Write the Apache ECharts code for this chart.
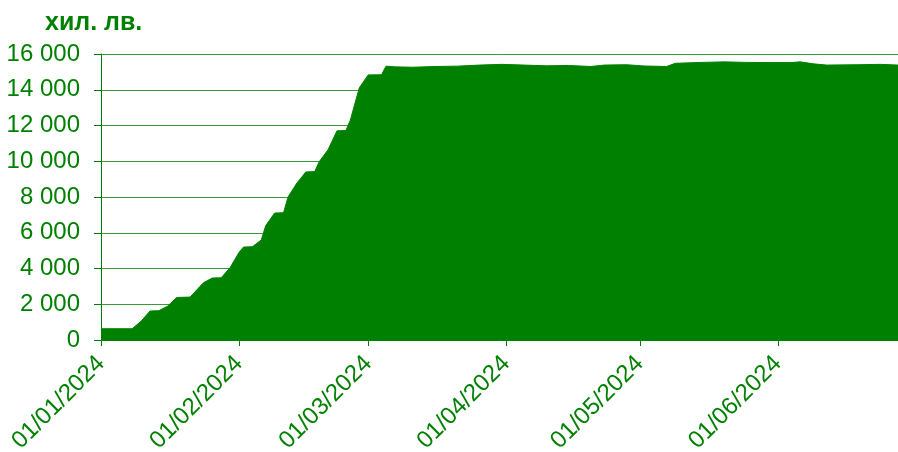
<!DOCTYPE html>
<html>
<head>
<meta charset="utf-8">
<script src="https://cdn.jsdelivr.net/npm/echarts@6/dist/echarts.min.js"></script>
<style>
  html, body { margin: 0; padding: 0; background: #fff; }
  #chart-container { width: 898px; height: 452px; }
</style>
</head>
<body>
<div id="chart-container"></div>
<script>
// values (thousand leva), breakpoints of the filled curve
var dates = [
  '2024-01-01', '2024-01-08', '2024-01-10', '2024-01-12', '2024-01-14', '2024-01-16',
  '2024-01-18', '2024-01-21', '2024-01-24', '2024-01-26', '2024-01-28', '2024-01-30',
  '2024-02-01', '2024-02-02', '2024-02-04', '2024-02-06', '2024-02-07', '2024-02-09',
  '2024-02-11', '2024-02-12', '2024-02-14', '2024-02-16', '2024-02-18', '2024-02-19',
  '2024-02-21', '2024-02-23', '2024-02-25', '2024-02-26', '2024-02-28', '2024-03-01',
  '2024-03-04', '2024-03-05', '2024-03-07', '2024-03-11', '2024-03-16', '2024-03-21',
  '2024-03-26', '2024-03-31', '2024-04-05', '2024-04-10', '2024-04-15', '2024-04-20',
  '2024-04-23', '2024-04-28', '2024-05-02', '2024-05-07', '2024-05-09', '2024-05-15',
  '2024-05-20', '2024-05-25', '2024-05-30', '2024-06-04', '2024-06-06', '2024-06-09',
  '2024-06-12', '2024-06-19', '2024-06-24', '2024-06-28'
];
var values = [
  630, 630, 1050, 1620, 1640, 1900,
  2380, 2400, 3200, 3470, 3480, 4050,
  4900, 5200, 5220, 5600, 6400, 7100,
  7120, 8000, 8780, 9400, 9420, 9970,
  10650, 11700, 11720, 12300, 14100, 14830,
  14840, 15320, 15280, 15260, 15300, 15320,
  15380, 15420, 15380, 15340, 15360, 15300,
  15380, 15400, 15330, 15300, 15480, 15530,
  15560, 15530, 15520, 15520, 15560, 15450,
  15380, 15400, 15420, 15380
];
var yTicks = [0, 2000, 4000, 6000, 8000, 10000, 12000, 14000, 16000];

var green = '#008000';
var font = 'Liberation Sans';

function pad(n) { return n < 10 ? '0' + n : '' + n; }

var dom = document.getElementById('chart-container');
var myChart = echarts.init(dom, null, { renderer: 'canvas' });

var seriesData = dates.map(function (d, i) { return [d, values[i]]; });

var option = {
  animation: false,
  backgroundColor: '#fff',
  title: {
    text: 'хил. лв.',
    left: 40,
    top: 6,
    textStyle: { color: green, fontFamily: font, fontWeight: 'bold', fontSize: 25 }
  },
  grid: { left: 101, right: 0, top: 54, bottom: 112, containLabel: false, outerBoundsMode: 'none' },
  xAxis: {
    type: 'time',
    min: dates[0],
    max: dates[dates.length - 1],
    minInterval: 28 * 24 * 3600 * 1000,
    maxInterval: 31 * 24 * 3600 * 1000,
    axisLine: { show: true, lineStyle: { color: green, width: 1 } },
    axisTick: { show: true, length: 6, lineStyle: { color: green } },
    splitLine: { show: false },
    axisLabel: {
      rotate: 45,
      margin: 20,
      color: green,
      fontFamily: font,
      fontSize: 24,
      showMaxLabel: false,
      formatter: function (v) {
        var d = new Date(v);
        return pad(d.getDate()) + '/' + pad(d.getMonth() + 1) + '/' + d.getFullYear();
      }
    }
  },
  yAxis: {
    type: 'value',
    min: yTicks[0],
    max: yTicks[yTicks.length - 1],
    interval: 2000,
    axisLine: { show: true, lineStyle: { color: green, width: 1 } },
    axisTick: { show: true, length: 7, lineStyle: { color: green } },
    splitLine: { show: true, lineStyle: { color: '#3a9a3a', width: 1 } },
    axisLabel: {
      margin: 21,
      color: green,
      fontFamily: font,
      fontSize: 24,
      formatter: function (v) {
        return String(v).replace(/\B(?=(\d{3})+(?!\d))/g, ' ');
      }
    }
  },
  series: [
    {
      name: 'хил. лв.',
      type: 'line',
      data: seriesData,
      symbol: 'none',
      lineStyle: { color: green, width: 1 },
      areaStyle: { color: green, opacity: 1 },
      z: 3
    }
  ]
};

myChart.setOption(option);
window.addEventListener('resize', myChart.resize);
</script>
</body>
</html>
